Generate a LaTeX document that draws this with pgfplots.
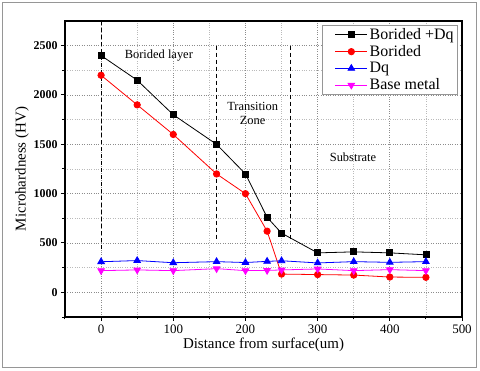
\documentclass[border=0pt]{standalone}
\usepackage{pgfplots}
\pgfplotsset{compat=1.18}
\usepackage{fontspec}
\setmainfont{Liberation Serif}

\definecolor{gridgray}{RGB}{140,140,140}
\definecolor{framegray}{RGB}{150,150,150}
\definecolor{basemag}{RGB}{255,0,255}
\definecolor{dqblue}{RGB}{0,0,255}
\definecolor{boridred}{RGB}{255,0,0}

\begin{document}
\begin{tikzpicture}
\useasboundingbox (-65bp,-54bp) rectangle (415bp,317bp);
\draw[framegray, line width=1bp] (-62bp,-50bp) rectangle (411bp,314bp);
\begin{axis}[
  at={(0,0)}, anchor=south west,
  scale only axis, width=397bp, height=296bp,
  xmin=-50, xmax=500, ymin=-250, ymax=2750,
  xtick={0,100,...,500}, ytick={0,500,...,2500},
  minor xtick={-50,50,150,250,350,450},
  minor ytick={-250,250,750,1250,1750,2250},
  axis line style={line width=1.3bp},
  tick align=outside, tick pos=left,
  major tick length=4bp, minor tick length=2.5bp,
  every tick/.style={black, line width=1bp},
  grid=both,
  major grid style={dotted, gridgray, line width=0.8bp},
  minor grid style={dotted, gridgray!60, line width=0.7bp},
  xticklabel style={font=\fontsize{13}{13}\selectfont},
  yticklabel style={font=\fontsize{12}{12}\selectfont\bfseries},
  /pgf/number format/assume math mode=true,
  /pgf/number format/1000 sep={},
  xlabel={Distance from surface(um)},
  ylabel={Microhardness (HV)},
  label style={font=\fontsize{15}{15}\selectfont},
  xlabel style={yshift=2bp},
  ylabel style={yshift=-2bp},
  legend style={at={(0.99,0.987)}, anchor=north east,
    draw=framegray, line width=1bp, font=\fontsize{16}{17}\selectfont,
    row sep=0.5bp, inner xsep=2bp, inner ysep=1bp,
    cells={anchor=west}},
  legend image code/.code={
    \path (0bp,0bp);
    \draw[mark repeat=2, mark phase=2, line width=0.8bp]
      plot coordinates {(10bp,0bp) (26bp,0bp) (42bp,0bp)};},
  clip=false,
]
\addplot[black, line width=0.8bp, mark=square*, mark size=3bp] coordinates {
  (0,2400) (50,2150) (100,1800) (160,1500) (200,1200) (230,760)
  (250,600) (300,400) (350,410) (400,400) (450,380)
};
\addlegendentry{Borided +Dq}
\addplot[boridred, line width=0.8bp, mark=*, mark size=3.2bp] coordinates {
  (0,2200) (50,1900) (100,1600) (160,1200) (200,1000) (230,620)
  (250,185) (300,180) (350,175) (400,155) (450,152)
};
\addlegendentry{Borided}
\addplot[dqblue, line width=0.8bp, mark=triangle*, mark size=3.8bp] coordinates {
  (0,310) (50,322) (100,300) (160,311) (200,302) (230,314)
  (250,320) (300,298) (350,311) (400,304) (450,311)
};
\addlegendentry{Dq}
\addplot[basemag, line width=0.8bp, mark=triangle*, mark options={rotate=180}, mark size=3.8bp] coordinates {
  (0,220) (50,227) (100,220) (160,240) (200,220) (230,222)
  (250,227) (300,237) (350,220) (400,230) (450,220)
};
\addlegendentry{Base metal}
\draw[black, dash pattern=on 4bp off 3bp, line width=1bp] (axis cs:0,2750) -- (axis cs:0,420);
\draw[black, dash pattern=on 4bp off 3bp, line width=1bp] (axis cs:160,2500) -- (axis cs:160,520);
\draw[black, dash pattern=on 4bp off 3bp, line width=1bp] (axis cs:262,2500) -- (axis cs:262,520);
\node[font=\fontsize{12.5}{13}\selectfont] at (axis cs:80,2403) {Borided layer};
\node[font=\fontsize{12.5}{14}\selectfont, align=center] at (axis cs:210,1810) {Transition\\Zone};
\node[font=\fontsize{12.5}{13}\selectfont] at (axis cs:349,1366) {Substrate};
\end{axis}
\end{tikzpicture}
\end{document}
